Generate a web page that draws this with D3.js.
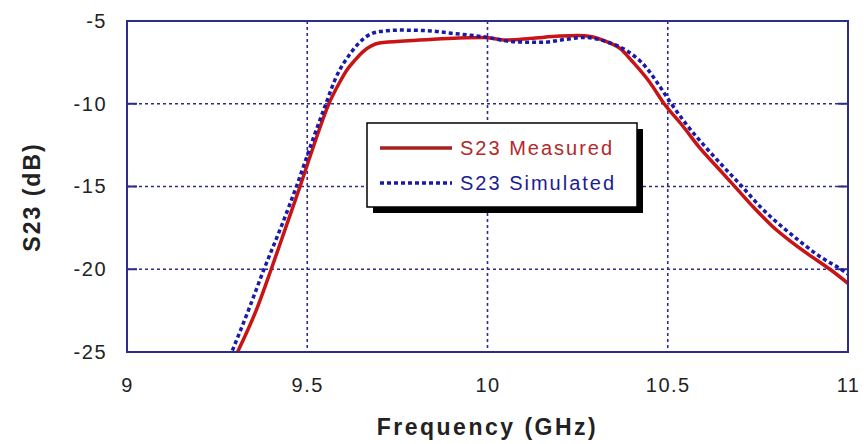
<!DOCTYPE html>
<html>
<head>
<meta charset="utf-8">
<script src="https://cdn.jsdelivr.net/npm/d3@7"></script>
<style>
  body { margin: 0; background: #fff; }
  text { font-family: "Liberation Sans", Arial, sans-serif; }
</style>
</head>
<body>
<svg id="chart" width="864" height="444"></svg>
<script>
// frequency (GHz) / S23 (dB)
const measFreq = [9.30, 9.36, 9.40, 9.44, 9.48, 9.52, 9.56, 9.59, 9.61, 9.635, 9.655, 9.70, 9.78, 9.85, 9.92, 9.99, 10.05, 10.12, 10.20, 10.25, 10.29, 10.33, 10.37, 10.40, 10.45, 10.49, 10.54, 10.59, 10.64, 10.69, 10.74, 10.79, 10.84, 10.89, 10.95, 11.00];
const measDb   = [-25.3, -22.4, -20.0, -17.5, -15.0, -12.4, -10.0, -8.7, -7.96, -7.3, -6.85, -6.33, -6.19, -6.1, -6.03, -6.0, -6.15, -6.05, -5.91, -5.87, -5.95, -6.25, -6.7, -7.4, -8.7, -10.0, -11.3, -12.7, -13.9, -15.1, -16.3, -17.4, -18.3, -19.1, -20.0, -20.85];

const simFreq = [9.285, 9.34, 9.38, 9.43, 9.47, 9.51, 9.55, 9.58, 9.62, 9.66, 9.70, 9.76, 9.83, 9.90, 10.00, 10.07, 10.15, 10.22, 10.27, 10.33, 10.39, 10.44, 10.47, 10.51, 10.55, 10.60, 10.65, 10.706, 10.76, 10.81, 10.86, 10.92, 10.98, 11.00];
const simDb   = [-25.3, -22.3, -20.0, -17.3, -15.0, -12.5, -10.1, -8.4, -6.95, -6.0, -5.64, -5.55, -5.58, -5.74, -5.99, -6.25, -6.29, -6.1, -5.99, -6.25, -6.85, -7.8, -8.7, -10.0, -11.2, -12.5, -13.7, -15.0, -16.3, -17.3, -18.2, -19.2, -20.0, -20.3];

const xTicks = [9, 9.5, 10, 10.5, 11];
const yTicks = [-5, -10, -15, -20, -25];
const legendLabels = ["S23 Measured", "S23 Simulated"];

const margin = { top: 21, right: 16, bottom: 92, left: 127 },
      width = 864 - margin.left - margin.right,
      height = 444 - margin.top - margin.bottom;

const svg = d3.select("#chart").append("g")
    .attr("transform", `translate(${margin.left},${margin.top})`);

const x = d3.scaleLinear().domain([9, 11]).range([0, width]);
const y = d3.scaleLinear().domain([-25, -5]).range([height, 0]);

const frameCol = "#2c2c8c";

svg.append("defs").append("clipPath").attr("id", "clip")
  .append("rect").attr("width", width).attr("height", height);

// grid
svg.append("g").selectAll("line")
    .data(xTicks.slice(1, -1))
    .enter().append("line")
    .attr("x1", d => x(d)).attr("x2", d => x(d))
    .attr("y1", 0).attr("y2", height)
    .attr("stroke", frameCol).attr("stroke-width", 1.6)
    .attr("stroke-dasharray", "3,3");

svg.append("g").selectAll("line")
    .data(yTicks.slice(1, -1))
    .enter().append("line")
    .attr("x1", 0).attr("x2", width)
    .attr("y1", d => y(d)).attr("y2", d => y(d))
    .attr("stroke", frameCol).attr("stroke-width", 1.6)
    .attr("stroke-dasharray", "3,3");

// inner ticks on left and right
svg.append("g").selectAll("path")
    .data(yTicks.slice(1, -1))
    .enter().append("path")
    .attr("d", d => `M0,${y(d)}h10M${width},${y(d)}h-10`)
    .attr("stroke", frameCol).attr("stroke-width", 2);

// axes labels (plain hyphen for minus, like the original)
const xAxis = d3.axisBottom(x).tickValues(xTicks).tickSize(0).tickPadding(26).tickFormat(d => String(d));
const yAxis = d3.axisLeft(y).tickValues(yTicks).tickSize(0).tickPadding(20).tickFormat(d => String(d));

const gx = svg.append("g").attr("transform", `translate(0,${height})`).call(xAxis);
const gy = svg.append("g").call(yAxis);
[gx, gy].forEach(g => {
  g.select(".domain").remove();
  g.selectAll("text")
    .attr("font-size", 20)
    .attr("letter-spacing", "1.5px")
    .attr("fill", "#222");
});

// curves
const line = d3.line()
    .x(d => x(d[0]))
    .y(d => y(d[1]))
    .curve(d3.curveMonotoneX);

const curves = svg.append("g").attr("clip-path", "url(#clip)");

curves.append("path")
    .datum(measFreq.map((f, i) => [f, measDb[i]]))
    .attr("d", line)
    .attr("fill", "none")
    .attr("stroke", "#c81414")
    .attr("stroke-width", 3.5);

curves.append("path")
    .datum(simFreq.map((f, i) => [f, simDb[i]]))
    .attr("d", line)
    .attr("fill", "none")
    .attr("stroke", "#1a1aa8")
    .attr("stroke-width", 3.5)
    .attr("stroke-dasharray", "4,3");

// frame
svg.append("rect")
    .attr("width", width).attr("height", height)
    .attr("fill", "none")
    .attr("stroke", frameCol).attr("stroke-width", 2);

// legend
const lg = svg.append("g").attr("transform", `translate(${367 - margin.left},${123 - margin.top})`);
lg.append("rect").attr("x", 6).attr("y", 6).attr("width", 270).attr("height", 84).attr("fill", "#000");
lg.append("rect").attr("width", 270).attr("height", 84)
    .attr("fill", "#fff").attr("stroke", "#000").attr("stroke-width", 1.5);

const legendCols = [["#a52222", "#b02a2a", null], ["#1a1aa8", "#1c1c96", "4,3"]];
legendLabels.forEach((lab, i) => {
  const yy = 25 + i * 35;
  lg.append("line")
    .attr("x1", 13).attr("x2", 85).attr("y1", yy).attr("y2", yy)
    .attr("stroke", legendCols[i][0]).attr("stroke-width", 3.5)
    .attr("stroke-dasharray", legendCols[i][2]);
  lg.append("text")
    .attr("x", 93).attr("y", yy + 7)
    .attr("font-size", 20)
    .attr("letter-spacing", "2px")
    .attr("fill", legendCols[i][1])
    .text(lab);
});

// axis titles
svg.append("text")
    .attr("x", width / 2).attr("y", height + 83)
    .attr("text-anchor", "middle")
    .attr("font-size", 23).attr("font-weight", "bold")
    .attr("letter-spacing", "2.5px")
    .attr("fill", "#222")
    .text("Frequency (GHz)");

svg.append("text")
    .attr("transform", `translate(${40 - margin.left},${197 - margin.top}) rotate(-90)`)
    .attr("text-anchor", "middle")
    .attr("font-size", 23).attr("font-weight", "bold")
    .attr("letter-spacing", "2px")
    .attr("fill", "#222")
    .text("S23 (dB)");
</script>
</body>
</html>
